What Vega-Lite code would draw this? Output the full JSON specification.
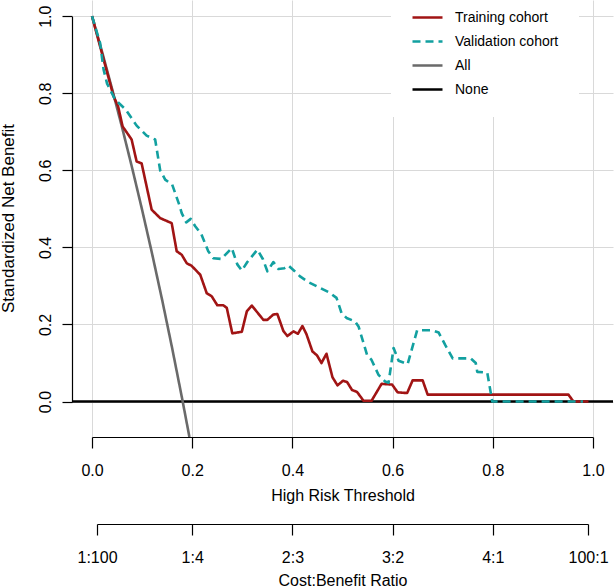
{
  "$schema": "https://vega.github.io/schema/vega-lite/v6.json",
  "width": 541,
  "height": 437,
  "autosize": {"type": "none"},
  "padding": {"left": 72, "top": 0, "right": 1, "bottom": 150},
  "background": "white",
  "config": {
    "view": {"stroke": null},
    "font": "Liberation Sans",
    "axis": {
      "domain": false,
      "labelColor": "black",
      "labelFont": "Liberation Sans",
      "labelFontSize": 16,
      "titleColor": "black",
      "titleFont": "Liberation Sans",
      "titleFontSize": 16,
      "titleFontWeight": "normal",
      "gridColor": "#D9D9D9",
      "gridWidth": 1,
      "labelFlush": false,
      "labelOverlap": false,
      "tickColor": "#000000",
      "tickWidth": 1.2
    }
  },
  "datasets": {
    "reference": [
      {"series": "None", "threshold": -0.04, "benefit": 0},
      {"series": "None", "threshold": 1.04, "benefit": 0},
      {"series": "All", "threshold": 0.0, "benefit": 1.0},
      {"series": "All", "threshold": 0.02, "benefit": 0.9077},
      {"series": "All", "threshold": 0.04, "benefit": 0.8115},
      {"series": "All", "threshold": 0.06, "benefit": 0.7112},
      {"series": "All", "threshold": 0.08, "benefit": 0.6065},
      {"series": "All", "threshold": 0.10, "benefit": 0.4972},
      {"series": "All", "threshold": 0.12, "benefit": 0.3830},
      {"series": "All", "threshold": 0.14, "benefit": 0.2634},
      {"series": "All", "threshold": 0.16, "benefit": 0.1381},
      {"series": "All", "threshold": 0.18, "benefit": 0.0067},
      {"series": "All", "threshold": 0.1944, "benefit": -0.092}
    ],
    "cohorts": [
      {"series": "Training cohort", "threshold": 0.0, "benefit": 1.0},
      {"series": "Training cohort", "threshold": 0.016, "benefit": 0.922},
      {"series": "Training cohort", "threshold": 0.043, "benefit": 0.792},
      {"series": "Training cohort", "threshold": 0.052, "benefit": 0.766},
      {"series": "Training cohort", "threshold": 0.061, "benefit": 0.714},
      {"series": "Training cohort", "threshold": 0.079, "benefit": 0.680},
      {"series": "Training cohort", "threshold": 0.089, "benefit": 0.623},
      {"series": "Training cohort", "threshold": 0.099, "benefit": 0.618},
      {"series": "Training cohort", "threshold": 0.119, "benefit": 0.498},
      {"series": "Training cohort", "threshold": 0.136, "benefit": 0.476},
      {"series": "Training cohort", "threshold": 0.159, "benefit": 0.463},
      {"series": "Training cohort", "threshold": 0.169, "benefit": 0.390},
      {"series": "Training cohort", "threshold": 0.179, "benefit": 0.381},
      {"series": "Training cohort", "threshold": 0.189, "benefit": 0.359},
      {"series": "Training cohort", "threshold": 0.199, "benefit": 0.352},
      {"series": "Training cohort", "threshold": 0.216, "benefit": 0.329},
      {"series": "Training cohort", "threshold": 0.229, "benefit": 0.281},
      {"series": "Training cohort", "threshold": 0.239, "benefit": 0.273},
      {"series": "Training cohort", "threshold": 0.250, "benefit": 0.250},
      {"series": "Training cohort", "threshold": 0.262, "benefit": 0.250},
      {"series": "Training cohort", "threshold": 0.269, "benefit": 0.243},
      {"series": "Training cohort", "threshold": 0.280, "benefit": 0.177},
      {"series": "Training cohort", "threshold": 0.299, "benefit": 0.181},
      {"series": "Training cohort", "threshold": 0.309, "benefit": 0.234},
      {"series": "Training cohort", "threshold": 0.319, "benefit": 0.249},
      {"series": "Training cohort", "threshold": 0.342, "benefit": 0.212},
      {"series": "Training cohort", "threshold": 0.350, "benefit": 0.212},
      {"series": "Training cohort", "threshold": 0.362, "benefit": 0.226},
      {"series": "Training cohort", "threshold": 0.370, "benefit": 0.227},
      {"series": "Training cohort", "threshold": 0.382, "benefit": 0.183},
      {"series": "Training cohort", "threshold": 0.390, "benefit": 0.170},
      {"series": "Training cohort", "threshold": 0.402, "benefit": 0.182},
      {"series": "Training cohort", "threshold": 0.411, "benefit": 0.176},
      {"series": "Training cohort", "threshold": 0.420, "benefit": 0.196},
      {"series": "Training cohort", "threshold": 0.428, "benefit": 0.175},
      {"series": "Training cohort", "threshold": 0.440, "benefit": 0.130},
      {"series": "Training cohort", "threshold": 0.449, "benefit": 0.120},
      {"series": "Training cohort", "threshold": 0.458, "benefit": 0.100},
      {"series": "Training cohort", "threshold": 0.468, "benefit": 0.124},
      {"series": "Training cohort", "threshold": 0.480, "benefit": 0.063},
      {"series": "Training cohort", "threshold": 0.490, "benefit": 0.042},
      {"series": "Training cohort", "threshold": 0.501, "benefit": 0.054},
      {"series": "Training cohort", "threshold": 0.509, "benefit": 0.051},
      {"series": "Training cohort", "threshold": 0.519, "benefit": 0.030},
      {"series": "Training cohort", "threshold": 0.529, "benefit": 0.025},
      {"series": "Training cohort", "threshold": 0.542, "benefit": 0.002},
      {"series": "Training cohort", "threshold": 0.558, "benefit": 0.002},
      {"series": "Training cohort", "threshold": 0.578, "benefit": 0.046},
      {"series": "Training cohort", "threshold": 0.599, "benefit": 0.044},
      {"series": "Training cohort", "threshold": 0.610, "benefit": 0.024},
      {"series": "Training cohort", "threshold": 0.629, "benefit": 0.022},
      {"series": "Training cohort", "threshold": 0.640, "benefit": 0.055},
      {"series": "Training cohort", "threshold": 0.660, "benefit": 0.055},
      {"series": "Training cohort", "threshold": 0.670, "benefit": 0.018},
      {"series": "Training cohort", "threshold": 0.951, "benefit": 0.018},
      {"series": "Training cohort", "threshold": 0.961, "benefit": 0.0},
      {"series": "Training cohort", "threshold": 0.991, "benefit": 0.0},
      {"series": "Validation cohort", "threshold": 0.0, "benefit": 1.0},
      {"series": "Validation cohort", "threshold": 0.016, "benefit": 0.931},
      {"series": "Validation cohort", "threshold": 0.023, "benefit": 0.862},
      {"series": "Validation cohort", "threshold": 0.030, "benefit": 0.825},
      {"series": "Validation cohort", "threshold": 0.046, "benefit": 0.784},
      {"series": "Validation cohort", "threshold": 0.067, "benefit": 0.758},
      {"series": "Validation cohort", "threshold": 0.089, "benefit": 0.716},
      {"series": "Validation cohort", "threshold": 0.109, "benefit": 0.690},
      {"series": "Validation cohort", "threshold": 0.126, "benefit": 0.680},
      {"series": "Validation cohort", "threshold": 0.136, "benefit": 0.600},
      {"series": "Validation cohort", "threshold": 0.146, "benefit": 0.576},
      {"series": "Validation cohort", "threshold": 0.160, "benefit": 0.563},
      {"series": "Validation cohort", "threshold": 0.174, "benefit": 0.511},
      {"series": "Validation cohort", "threshold": 0.179, "benefit": 0.489},
      {"series": "Validation cohort", "threshold": 0.188, "benefit": 0.465},
      {"series": "Validation cohort", "threshold": 0.197, "benefit": 0.474},
      {"series": "Validation cohort", "threshold": 0.206, "benefit": 0.455},
      {"series": "Validation cohort", "threshold": 0.218, "benefit": 0.435},
      {"series": "Validation cohort", "threshold": 0.232, "benefit": 0.390},
      {"series": "Validation cohort", "threshold": 0.242, "benefit": 0.372},
      {"series": "Validation cohort", "threshold": 0.258, "benefit": 0.370},
      {"series": "Validation cohort", "threshold": 0.279, "benefit": 0.398},
      {"series": "Validation cohort", "threshold": 0.290, "benefit": 0.356},
      {"series": "Validation cohort", "threshold": 0.299, "benefit": 0.340},
      {"series": "Validation cohort", "threshold": 0.310, "benefit": 0.362},
      {"series": "Validation cohort", "threshold": 0.330, "benefit": 0.394},
      {"series": "Validation cohort", "threshold": 0.341, "benefit": 0.370},
      {"series": "Validation cohort", "threshold": 0.350, "benefit": 0.338},
      {"series": "Validation cohort", "threshold": 0.362, "benefit": 0.362},
      {"series": "Validation cohort", "threshold": 0.372, "benefit": 0.344},
      {"series": "Validation cohort", "threshold": 0.384, "benefit": 0.346},
      {"series": "Validation cohort", "threshold": 0.392, "benefit": 0.353},
      {"series": "Validation cohort", "threshold": 0.403, "benefit": 0.340},
      {"series": "Validation cohort", "threshold": 0.416, "benefit": 0.324},
      {"series": "Validation cohort", "threshold": 0.432, "benefit": 0.310},
      {"series": "Validation cohort", "threshold": 0.455, "benefit": 0.295},
      {"series": "Validation cohort", "threshold": 0.475, "benefit": 0.282},
      {"series": "Validation cohort", "threshold": 0.488, "benefit": 0.269},
      {"series": "Validation cohort", "threshold": 0.498, "benefit": 0.230},
      {"series": "Validation cohort", "threshold": 0.508, "benefit": 0.217},
      {"series": "Validation cohort", "threshold": 0.525, "benefit": 0.208},
      {"series": "Validation cohort", "threshold": 0.532, "benefit": 0.195},
      {"series": "Validation cohort", "threshold": 0.549, "benefit": 0.121},
      {"series": "Validation cohort", "threshold": 0.558, "benefit": 0.108},
      {"series": "Validation cohort", "threshold": 0.572, "benefit": 0.069},
      {"series": "Validation cohort", "threshold": 0.585, "benefit": 0.052},
      {"series": "Validation cohort", "threshold": 0.592, "benefit": 0.049},
      {"series": "Validation cohort", "threshold": 0.602, "benefit": 0.139},
      {"series": "Validation cohort", "threshold": 0.612, "benefit": 0.106},
      {"series": "Validation cohort", "threshold": 0.630, "benefit": 0.097},
      {"series": "Validation cohort", "threshold": 0.640, "benefit": 0.143},
      {"series": "Validation cohort", "threshold": 0.649, "benefit": 0.185},
      {"series": "Validation cohort", "threshold": 0.679, "benefit": 0.185},
      {"series": "Validation cohort", "threshold": 0.692, "benefit": 0.179},
      {"series": "Validation cohort", "threshold": 0.705, "benefit": 0.147},
      {"series": "Validation cohort", "threshold": 0.720, "benefit": 0.112},
      {"series": "Validation cohort", "threshold": 0.756, "benefit": 0.112},
      {"series": "Validation cohort", "threshold": 0.766, "benefit": 0.100},
      {"series": "Validation cohort", "threshold": 0.769, "benefit": 0.077},
      {"series": "Validation cohort", "threshold": 0.789, "benefit": 0.075},
      {"series": "Validation cohort", "threshold": 0.799, "benefit": 0.0},
      {"series": "Validation cohort", "threshold": 0.980, "benefit": 0.0}
    ]
  },
  "layer": [
    {
      "data": {"name": "reference"},
      "transform": [{"filter": "datum.series === 'None'"}],
      "mark": {"type": "line", "strokeJoin": "round"},
      "encoding": {
        "x": {
          "field": "threshold",
          "type": "quantitative",
          "scale": {"domain": [-0.04, 1.04], "nice": false, "zero": false},
          "axis": {
            "orient": "bottom",
            "values": [0, 0.2, 0.4, 0.6, 0.8, 1],
            "grid": true,
            "ticks": false,
            "labels": false,
            "title": null,
            "zindex": 0,
            "minExtent": 0,
            "maxExtent": 0
          }
        },
        "y": {
          "field": "benefit",
          "type": "quantitative",
          "scale": {"domain": [-0.092, 1.042], "nice": false, "zero": false},
          "axis": {
            "orient": "left",
            "values": [0, 0.2, 0.4, 0.6, 0.8, 1],
            "grid": true,
            "ticks": false,
            "labels": false,
            "title": null,
            "zindex": 0,
            "minExtent": 0,
            "maxExtent": 0
          }
        },
        "color": {
          "field": "series",
          "type": "nominal",
          "scale": {
            "domain": ["Training cohort", "Validation cohort", "All", "None"],
            "range": ["#A11414", "#12A0A0", "#6A6A6A", "#000000"]
          },
          "legend": {
            "orient": "none",
            "legendX": 319,
            "legendY": -19,
            "title": null,
            "symbolType": "stroke",
            "symbolSize": 900,
            "labelFont": "Liberation Sans",
            "labelFontSize": 14,
            "labelColor": "black",
            "labelOffset": 11,
            "rowPadding": 0,
            "padding": 20,
            "fillColor": "white",
            "encode": {
              "symbols": {
                "update": {
                  "strokeWidth": {"value": 3},
                  "stroke": {"signal": "datum.value === 'Training cohort' ? '#A11414' : datum.value === 'Validation cohort' ? '#0B6E1E' : datum.value === 'All' ? '#555555' : '#0A0A28'"}
                }
              }
            }
          }
        },
        "strokeDash": {
          "field": "series",
          "type": "nominal",
          "scale": {
            "domain": ["Training cohort", "Validation cohort", "All", "None"],
            "range": [[1, 0], [8, 5], [1, 0], [1, 0]]
          }
        },
        "strokeWidth": {
          "field": "series",
          "type": "nominal",
          "scale": {
            "domain": ["Training cohort", "Validation cohort", "All", "None"],
            "range": [2.6, 2.6, 0.8, 1.5]
          }
        }
      }
    },
    {
      "data": {"name": "reference"},
      "transform": [{"filter": "datum.series === 'All'"}],
      "mark": {"type": "line", "strokeJoin": "round"},
      "encoding": {
        "x": {
          "field": "threshold",
          "type": "quantitative",
          "scale": {"domain": [-0.04, 1.04], "nice": false, "zero": false},
          "axis": {
            "orient": "bottom",
            "values": [0, 0.2, 0.4, 0.6, 0.8, 1],
            "format": ".1f",
            "title": "High Risk Threshold",
            "grid": false,
            "ticks": true,
            "tickSize": 11,
            "labelPadding": 14,
            "zindex": 1,
            "titleY": 63,
            "titleBaseline": "alphabetic"
          }
        },
        "y": {
          "field": "benefit",
          "type": "quantitative",
          "scale": {"domain": [-0.092, 1.042], "nice": false, "zero": false},
          "axis": {
            "orient": "left",
            "values": [0, 0.2, 0.4, 0.6, 0.8, 1],
            "format": ".1f",
            "title": "Standardized Net Benefit",
            "grid": false,
            "ticks": true,
            "tickSize": 10,
            "labelAngle": -90,
            "labelAlign": "center",
            "labelBaseline": "middle",
            "labelPadding": 17,
            "zindex": 1,
            "titleFontSize": 17,
            "titleAngle": -90,
            "titleAlign": "center",
            "titleBaseline": "alphabetic",
            "titleX": -59,
            "titleY": 218
          }
        },
        "color": {"field": "series", "type": "nominal"},
        "strokeDash": {"field": "series", "type": "nominal"},
        "strokeWidth": {"field": "series", "type": "nominal"}
      }
    },
    {
      "data": {"name": "cohorts"},
      "mark": {"type": "line", "strokeJoin": "round"},
      "encoding": {
        "x": {
          "field": "threshold",
          "type": "quantitative",
          "scale": {"domain": [0.0099, 0.9901], "range": [25.0, 516.0], "nice": false, "zero": false},
          "axis": {
            "orient": "bottom",
            "offset": 87,
            "values": [0.0099, 0.2, 0.4, 0.6, 0.8, 0.9901],
            "labelExpr": "datum.value < 0.1 ? '1:100' : datum.value < 0.3 ? '1:4' : datum.value < 0.5 ? '2:3' : datum.value < 0.7 ? '3:2' : datum.value < 0.9 ? '4:1' : '100:1'",
            "title": "Cost:Benefit Ratio",
            "grid": false,
            "ticks": true,
            "tickSize": 11,
            "labelPadding": 14,
            "zindex": 1,
            "titleY": 61,
            "titleBaseline": "alphabetic"
          }
        },
        "y": {
          "field": "benefit",
          "type": "quantitative",
          "scale": {"domain": [-0.092, 1.042], "nice": false, "zero": false},
          "axis": null
        },
        "color": {"field": "series", "type": "nominal"},
        "strokeDash": {"field": "series", "type": "nominal"},
        "strokeWidth": {"field": "series", "type": "nominal"}
      }
    },
    {
      "data": {"name": "reference"},
      "transform": [{"filter": "datum.series === 'None'"}],
      "mark": {"type": "line", "opacity": 0},
      "encoding": {
        "x": {
          "field": "threshold",
          "type": "quantitative",
          "scale": {"domain": [-0.04, 1.04], "nice": false, "zero": false},
          "axis": null
        },
        "y": {
          "field": "benefit",
          "type": "quantitative",
          "scale": {"domain": [-0.092, 1.042], "nice": false, "zero": false},
          "axis": {
            "orient": "right",
            "offset": -520.96,
            "values": [-0.092],
            "grid": false,
            "ticks": true,
            "tickSize": 500.93,
            "tickColor": "#000000",
            "tickWidth": 1.2,
            "labels": false,
            "title": null,
            "zindex": 1,
            "minExtent": 0,
            "maxExtent": 0
          }
        }
      }
    },
    {
      "data": {"name": "reference"},
      "transform": [{"filter": "datum.series === 'None'"}],
      "mark": {"type": "line", "opacity": 0},
      "encoding": {
        "x": {
          "field": "threshold",
          "type": "quantitative",
          "scale": {"domain": [-0.04, 1.04], "nice": false, "zero": false},
          "axis": {
            "orient": "bottom",
            "offset": -420.81,
            "values": [-0.04],
            "grid": false,
            "ticks": true,
            "tickSize": 385.36,
            "tickColor": "#000000",
            "tickWidth": 1.2,
            "labels": false,
            "title": null,
            "zindex": 1,
            "minExtent": 0,
            "maxExtent": 0
          }
        },
        "y": {
          "field": "benefit",
          "type": "quantitative",
          "scale": {"domain": [-0.092, 1.042], "nice": false, "zero": false},
          "axis": null
        }
      }
    },
    {
      "data": {"name": "reference"},
      "transform": [{"filter": "datum.series === 'None'"}],
      "mark": {"type": "line", "opacity": 0},
      "encoding": {
        "x": {
          "field": "threshold",
          "type": "quantitative",
          "scale": {"domain": [-0.04, 1.04], "nice": false, "zero": false},
          "axis": null
        },
        "y": {
          "field": "benefit",
          "type": "quantitative",
          "scale": {"domain": [0, 1], "range": [524, 0], "nice": false, "zero": false},
          "axis": {
            "orient": "right",
            "offset": -516,
            "values": [0],
            "grid": false,
            "ticks": true,
            "tickSize": 491,
            "tickColor": "#000000",
            "tickWidth": 1.2,
            "labels": false,
            "title": null,
            "zindex": 1,
            "minExtent": 0,
            "maxExtent": 0
          }
        }
      }
    }
  ],
  "resolve": {
    "scale": {"x": "independent", "y": "independent"},
    "axis": {"x": "independent", "y": "independent"}
  }
}
